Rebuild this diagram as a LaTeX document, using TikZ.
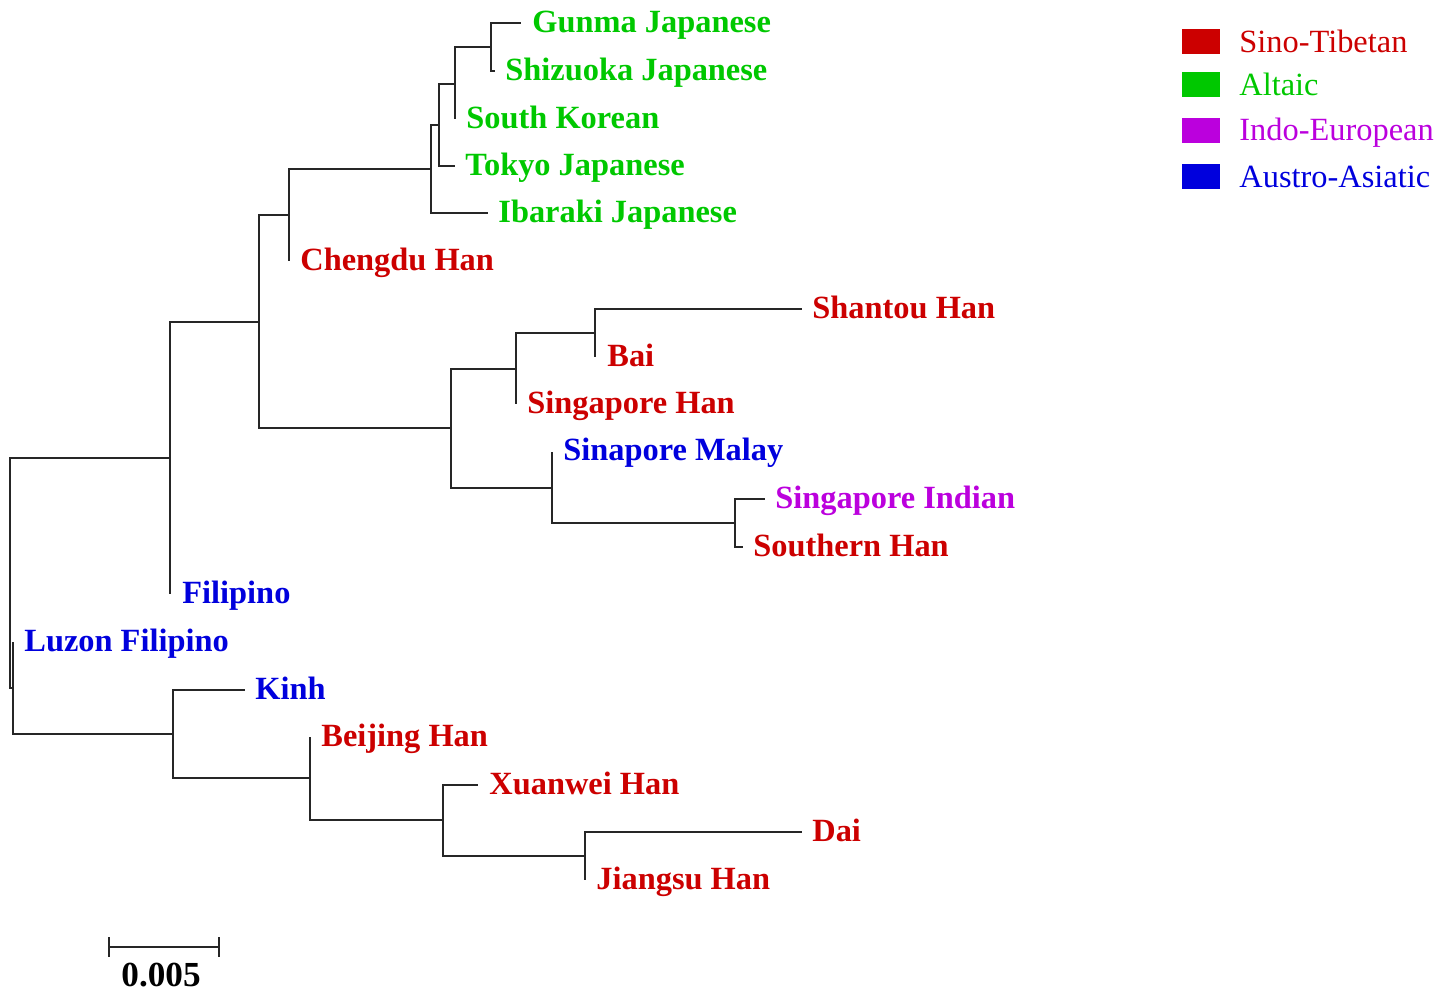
\documentclass[tikz,border=0pt]{standalone}
\usepackage{fontspec}
\setmainfont{Liberation Serif}
\definecolor{sino}{RGB}{204,0,0}
\definecolor{altaic}{RGB}{0,200,0}
\definecolor{indo}{RGB}{187,0,221}
\definecolor{austro}{RGB}{0,0,221}
\begin{document}
\begin{tikzpicture}[x=0.5pt,y=-0.5pt,
  branch/.style={draw=black!85, line width=1pt},
  taxon/.style={anchor=base west, inner sep=0pt, font=\fontsize{16.2}{19}\selectfont\bfseries},
  legtext/.style={anchor=base west, inner sep=0pt, font=\fontsize{16.2}{19}\selectfont},
  legbox/.style={minimum width=19pt, minimum height=12.5pt, inner sep=0pt}]
\useasboundingbox (0,0) rectangle (1453,991);

% internal nodes
\coordinate (root) at (10,573);
\coordinate (n1) at (491,47);
\coordinate (n2) at (455,84);
\coordinate (n3) at (439,125);
\coordinate (n4) at (431,169);
\coordinate (n5) at (289,215);
\coordinate (n6) at (595,333);
\coordinate (n7) at (516,369);
\coordinate (n8) at (735,523);
\coordinate (n9) at (552,488);
\coordinate (n10) at (451,428);
\coordinate (n11) at (259,322);
\coordinate (n12) at (170,458);
\coordinate (n13) at (585,856);
\coordinate (n14) at (443,820);
\coordinate (n15) at (310,778);
\coordinate (n16) at (173,734);
\coordinate (n17) at (13,688);

% tips
\coordinate (tGunma) at (521,23);
\coordinate (tShizuoka) at (495,71);
\coordinate (tKorean) at (455,119);
\coordinate (tTokyo) at (455,166);
\coordinate (tIbaraki) at (488,213);
\coordinate (tChengdu) at (289,261);
\coordinate (tShantou) at (802,309);
\coordinate (tBai) at (595,357);
\coordinate (tSingHan) at (516,404);
\coordinate (tMalay) at (552,452);
\coordinate (tIndian) at (765,499);
\coordinate (tSouthern) at (743,547);
\coordinate (tFilipino) at (170,594);
\coordinate (tLuzon) at (13,642);
\coordinate (tKinh) at (245,690);
\coordinate (tBeijing) at (310,737);
\coordinate (tXuanwei) at (478,785);
\coordinate (tDai) at (802,832);
\coordinate (tJiangsu) at (585,880);

% branches
\path[branch]
  (n1) |- (tGunma)  (n1) |- (tShizuoka)
  (n2) |- (n1)      (n2) |- (tKorean)
  (n3) |- (n2)      (n3) |- (tTokyo)
  (n4) |- (n3)      (n4) |- (tIbaraki)
  (n5) |- (n4)      (n5) |- (tChengdu)
  (n6) |- (tShantou) (n6) |- (tBai)
  (n7) |- (n6)      (n7) |- (tSingHan)
  (n8) |- (tIndian) (n8) |- (tSouthern)
  (n9) |- (tMalay)  (n9) |- (n8)
  (n10) |- (n7)     (n10) |- (n9)
  (n11) |- (n5)     (n11) |- (n10)
  (n12) |- (n11)    (n12) |- (tFilipino)
  (n13) |- (tDai)   (n13) |- (tJiangsu)
  (n14) |- (tXuanwei) (n14) |- (n13)
  (n15) |- (tBeijing) (n15) |- (n14)
  (n16) |- (tKinh)  (n16) |- (n15)
  (n17) |- (tLuzon) (n17) |- (n16)
  (root) |- (n12)   (root) |- (n17);

% taxon labels
\path (tGunma)    ++(11,9) node[taxon, text=altaic] (Gunma) {Gunma Japanese};
\path (tShizuoka) ++(10,9) node[taxon, text=altaic] (Shizuoka) {Shizuoka Japanese};
\path (tKorean)   ++(11,9) node[taxon, text=altaic] (Korean) {South Korean};
\path (tTokyo)    ++(10,9) node[taxon, text=altaic] (Tokyo) {Tokyo Japanese};
\path (tIbaraki)  ++(10,9) node[taxon, text=altaic] (Ibaraki) {Ibaraki Japanese};
\path (tChengdu)  ++(11,9) node[taxon, text=sino] (Chengdu) {Chengdu Han};
\path (tShantou)  ++(10,9) node[taxon, text=sino] (Shantou) {Shantou Han};
\path (tBai)      ++(12,9) node[taxon, text=sino] (Bai) {Bai};
\path (tSingHan)  ++(11,9) node[taxon, text=sino] (SingHan) {Singapore Han};
\path (tMalay)    ++(11,8) node[taxon, text=austro] (Malay) {Sinapore Malay};
\path (tIndian)   ++(10,9) node[taxon, text=indo] (Indian) {Singapore Indian};
\path (tSouthern) ++(10,9) node[taxon, text=sino] (Southern) {Southern Han};
\path (tFilipino) ++(12,9) node[taxon, text=austro] (Filipino) {Filipino};
\path (tLuzon)    ++(11,9) node[taxon, text=austro] (Luzon) {Luzon Filipino};
\path (tKinh)     ++(10,9) node[taxon, text=austro] (Kinh) {Kinh};
\path (tBeijing)  ++(11,9) node[taxon, text=sino] (Beijing) {Beijing Han};
\path (tXuanwei)  ++(11,9) node[taxon, text=sino] (Xuanwei) {Xuanwei Han};
\path (tDai)      ++(10,9) node[taxon, text=sino] (Dai) {Dai};
\path (tJiangsu)  ++(11,9) node[taxon, text=sino] (Jiangsu) {Jiangsu Han};

% scale bar
\coordinate (sbL) at (109,947);
\coordinate (sbR) at (219,947);
\draw[branch] (sbL) -- (sbR);
\draw[branch] ([yshift=5pt]sbL) -- ([yshift=-5pt]sbL);
\draw[branch] ([yshift=5pt]sbR) -- ([yshift=-5pt]sbR);
\node[anchor=base, inner sep=0pt, font=\fontsize{17.6}{20}\selectfont\bfseries] (sblabel) at (161,986) {0.005};

% legend
\node[legbox, fill=sino]   (k1) at (1201,41)  {};
\node[legbox, fill=altaic] (k2) at (1201,84)  {};
\node[legbox, fill=indo]   (k3) at (1201,130) {};
\node[legbox, fill=austro] (k4) at (1201,176) {};
\node[legtext, text=sino]   (l1) at (1239,52)  {Sino-Tibetan};
\node[legtext, text=altaic] (l2) at (1239,95)  {Altaic};
\node[legtext, text=indo]   (l3) at (1239,140) {Indo-European};
\node[legtext, text=austro] (l4) at (1239,187) {Austro-Asiatic};
\end{tikzpicture}
\end{document}
